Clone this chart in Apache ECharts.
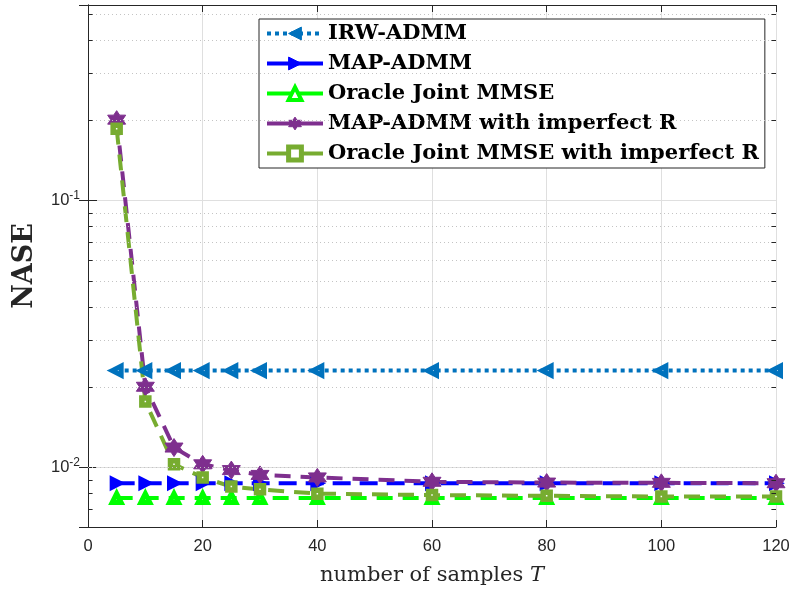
<!DOCTYPE html>
<html>
<head>
<meta charset="utf-8">
<script src="https://cdn.jsdelivr.net/npm/echarts@6/dist/echarts.min.js"></script>
<style>
  html, body { margin: 0; padding: 0; background: #fff; }
  #chart { width: 797px; height: 595px; }
</style>
</head>
<body>
<div id="chart"></div>
<script>
// number of samples T
const samples = [5, 10, 15, 20, 25, 30, 40, 60, 80, 100, 120];

// NASE values
const irwAdmm = [0.0231, 0.0231, 0.0231, 0.0231, 0.0231, 0.0231, 0.0231, 0.0231, 0.0231, 0.0231, 0.0231];
const mapAdmm = [0.00875, 0.00875, 0.00875, 0.00875, 0.00875, 0.00875, 0.00875, 0.00875, 0.00875, 0.00875, 0.00875];
const oracleMmse = [0.0077, 0.0077, 0.0077, 0.0077, 0.0077, 0.0077, 0.0077, 0.0077, 0.0077, 0.0077, 0.0077];
const mapImperfect = [0.201, 0.0201, 0.0119, 0.0103, 0.0098, 0.0094, 0.0092, 0.00886, 0.0088, 0.00878, 0.00875];
const oracleImperfect = [0.186, 0.0177, 0.0103, 0.0092, 0.0085, 0.0083, 0.0080, 0.0079, 0.00785, 0.0078, 0.0078];

const seriesNames = [
  'IRW-ADMM',
  'MAP-ADMM',
  'Oracle Joint MMSE',
  'MAP-ADMM with imperfect R',
  'Oracle Joint MMSE with imperfect R'
];
const seriesColors = ['#0072BD', '#0000FF', '#00FF00', '#7E2F8E', '#77AC30'];

// minor log grid values (2..9 per decade)
const minorValues = [0.007, 0.008, 0.009, 0.02, 0.03, 0.04, 0.05, 0.06, 0.07, 0.08, 0.09, 0.2, 0.3, 0.4, 0.5];

const yMin = 0.006;
const yMax = 0.54;
const xMin = 0;
const xMax = 120;

const hexagram = 'path://M0,-10 L2.89,-5 L8.66,-5 L5.77,0 L8.66,5 L2.89,5 L0,10 L-2.89,5 L-8.66,5 L-5.77,0 L-8.66,-5 L-2.89,-5 Z';

const pairs = (ys) => samples.map((x, i) => [x, ys[i]]);

const axisColor = '#262626';
const tickFont = 'Liberation Sans, Arial, sans-serif';
const serifFont = 'DejaVu Serif, serif';

function powLabel(v) {
  const e = Math.log10(v);
  if (Math.abs(e - Math.round(e)) > 1e-6) return '';
  return '{b|10}{s|' + Math.round(e) + '}';
}

// minor gridlines + tick marks on left and right borders
const minorLines = [];
minorValues.forEach(v => {
  minorLines.push({ yAxis: v, lineStyle: { type: [1, 3], color: '#c4c4c4', width: 1 } });
  minorLines.push([{ coord: [xMin, v], lineStyle: { type: 'solid', color: axisColor, width: 1 } }, { coord: [xMin + 0.8, v] }]);
  minorLines.push([{ coord: [xMax, v], lineStyle: { type: 'solid', color: axisColor, width: 1 } }, { coord: [xMax - 0.8, v] }]);
});

// legend entries: thick line + marker like the matlab legend
const legendItems = [
  { name: seriesNames[0], lineStyle: { width: 4, type: [4, 4] }, itemStyle: { color: seriesColors[0], borderColor: seriesColors[0], borderWidth: 1 } },
  { name: seriesNames[1], lineStyle: { width: 4, type: 'solid' }, itemStyle: { color: seriesColors[1], borderColor: seriesColors[1], borderWidth: 1 } },
  { name: seriesNames[2], lineStyle: { width: 4, type: 'solid' }, itemStyle: { color: '#fff', borderColor: seriesColors[2], borderWidth: 4 } },
  { name: seriesNames[3], lineStyle: { width: 4, type: 'solid' }, itemStyle: { color: seriesColors[3], borderColor: seriesColors[3], borderWidth: 1 } },
  { name: seriesNames[4], lineStyle: { width: 4, type: 'solid' }, itemStyle: { color: '#fff', borderColor: seriesColors[4], borderWidth: 5 } }
];

var myChart = echarts.init(document.getElementById('chart'), null, { renderer: 'canvas' });

let option = {
  animation: false,
  backgroundColor: '#fff',
  grid: { left: 88, top: 5, right: 21, bottom: 68 },
  legend: {
    orient: 'vertical',
    left: 259,
    top: 19,
    padding: [4, 6, 4, 6],
    itemWidth: 56,
    itemHeight: 16,
    itemGap: 9,
    backgroundColor: '#fff',
    borderColor: axisColor,
    borderWidth: 1,
    data: legendItems,
    textStyle: { fontFamily: serifFont, fontWeight: 'bold', fontSize: 21, color: '#000' }
  },
  xAxis: [
    {
      type: 'value',
      min: xMin,
      max: xMax,
      interval: 20,
      name: '{n|number of samples }{t|T}',
      nameLocation: 'middle',
      nameGap: 38,
      nameTextStyle: {
        rich: {
          n: { fontFamily: serifFont, fontSize: 21, color: '#262626' },
          t: { fontFamily: serifFont, fontSize: 21, fontStyle: 'italic', color: '#262626' }
        }
      },
      axisLine: { show: true, onZero: false, lineStyle: { color: axisColor, width: 1 } },
      axisTick: { show: true, inside: true, length: 7, lineStyle: { color: axisColor } },
      axisLabel: { margin: 11, fontFamily: tickFont, fontSize: 16.5, color: axisColor },
      splitLine: { show: true, lineStyle: { color: '#dfdfdf', width: 1 } }
    },
    {
      type: 'value',
      position: 'top',
      min: xMin,
      max: xMax,
      interval: 20,
      axisLine: { show: true, lineStyle: { color: axisColor, width: 1 } },
      axisTick: { show: true, inside: true, length: 7, lineStyle: { color: axisColor } },
      axisLabel: { show: false },
      splitLine: { show: false }
    }
  ],
  yAxis: [
    {
      type: 'log',
      logBase: 10,
      min: yMin,
      max: yMax,
      name: 'NASE',
      nameLocation: 'middle',
      nameRotate: 90,
      nameGap: 50,
      nameTextStyle: { fontFamily: serifFont, fontWeight: 'bold', fontSize: 27, color: '#262626' },
      axisLine: { show: true, lineStyle: { color: axisColor, width: 1 } },
      axisTick: { show: true, inside: true, length: 9, lineStyle: { color: axisColor } },
      axisLabel: {
        margin: 8,
        showMinLabel: false,
        showMaxLabel: false,
        formatter: powLabel,
        rich: {
          b: { fontFamily: tickFont, fontSize: 16.5, color: axisColor },
          s: { fontFamily: tickFont, fontSize: 12, color: axisColor, verticalAlign: 'top', padding: [0, 0, 10, 0] }
        }
      },
      splitLine: { show: true, lineStyle: { color: '#dfdfdf', width: 1 } }
    },
    {
      type: 'log',
      logBase: 10,
      position: 'right',
      min: yMin,
      max: yMax,
      axisLine: { show: true, lineStyle: { color: axisColor, width: 1 } },
      axisTick: { show: true, inside: true, length: 9, lineStyle: { color: axisColor } },
      axisLabel: { show: false },
      splitLine: { show: false }
    }
  ],
  series: [
    {
      name: 'minor-grid',
      type: 'line',
      data: [],
      silent: true,
      z: 1,
      markLine: {
        silent: true,
        symbol: 'none',
        label: { show: false },
        animation: false,
        data: minorLines
      }
    },
    {
      name: seriesNames[0],
      type: 'line',
      data: pairs(irwAdmm),
      symbol: 'triangle',
      symbolRotate: 90,
      symbolSize: 9,
      lineStyle: { color: seriesColors[0], width: 4, type: [4, 4] },
      itemStyle: { color: '#fff', borderColor: seriesColors[0], borderWidth: 5 }
    },
    {
      name: seriesNames[1],
      type: 'line',
      data: pairs(mapAdmm),
      symbol: 'triangle',
      symbolRotate: -90,
      symbolSize: 11,
      lineStyle: { color: seriesColors[1], width: 4, type: [18, 9] },
      itemStyle: { color: seriesColors[1], borderColor: seriesColors[1], borderWidth: 3 }
    },
    {
      name: seriesNames[2],
      type: 'line',
      data: pairs(oracleMmse),
      symbol: 'triangle',
      symbolSize: 9,
      lineStyle: { color: seriesColors[2], width: 4, type: [16, 10] },
      itemStyle: { color: '#fff', borderColor: seriesColors[2], borderWidth: 5 }
    },
    {
      name: seriesNames[3],
      type: 'line',
      data: pairs(mapImperfect),
      symbol: hexagram,
      symbolSize: 18,
      lineStyle: { color: seriesColors[3], width: 4, type: [16, 10] },
      itemStyle: { color: seriesColors[3], borderColor: seriesColors[3], borderWidth: 1 }
    },
    {
      name: seriesNames[4],
      type: 'line',
      data: pairs(oracleImperfect),
      symbol: 'rect',
      symbolSize: 7,
      lineStyle: { color: seriesColors[4], width: 4, type: [16, 10] },
      itemStyle: { color: '#fff', borderColor: seriesColors[4], borderWidth: 5.5 }
    }
  ]
};

option && myChart.setOption(option);
</script>
</body>
</html>
